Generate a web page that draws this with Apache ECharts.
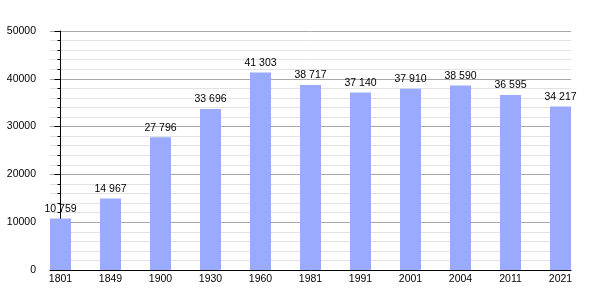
<!DOCTYPE html>
<html>
<head>
<meta charset="utf-8">
<script src="https://cdn.jsdelivr.net/npm/echarts@6/dist/echarts.min.js"></script>
<style>html,body{margin:0;padding:0;background:#fff}#c{width:600px;height:300px}</style>
</head>
<body>
<div id="c"></div>
<script>
const years = ['1801','1849','1900','1930','1960','1981','1991','2001','2004','2011','2021'];
const population = [10759, 14967, 27796, 33696, 41303, 38717, 37140, 37910, 38590, 36595, 34217];
const yTicks = [0, 10000, 20000, 30000, 40000, 50000];

const chart = echarts.init(document.getElementById('c'), null, {renderer: 'canvas'});
const fmt = v => String(v).replace(/\B(?=(\d{3})+(?!\d))/g, ' ');
chart.setOption({
  animation: false,
  backgroundColor: '#ffffff',
  textStyle: {fontFamily: 'Liberation Sans, Arial, sans-serif'},
  grid: {left: 50, top: 31, width: 521, height: 239, containLabel: false},
  xAxis: {
    type: 'value',
    min: -0.21,
    max: years.length - 1 + 0.21,
    axisLine: {show: true, onZero: false, lineStyle: {color: '#000', width: 1}},
    axisTick: {show: false},
    splitLine: {show: false},
    axisLabel: {
      customValues: years.map((_, i) => i),
      formatter: v => years[Math.round(v)],
      color: '#000', fontSize: 10.5, margin: 4
    }
  },
  yAxis: {
    type: 'value',
    min: yTicks[0], max: yTicks[yTicks.length - 1], interval: 10000,
    axisLine: {show: true, lineStyle: {color: '#000', width: 1}},
    axisTick: {show: true, length: 6, lineStyle: {color: '#000'}},
    minorTick: {show: true, splitNumber: 5, length: 3, lineStyle: {color: '#000'}},
    splitLine: {show: true, lineStyle: {color: '#a8a8a8', width: 1}},
    minorSplitLine: {show: true, lineStyle: {color: '#e2e2e2', width: 1}},
    axisLabel: {color: '#000', fontSize: 10.5, margin: 14, formatter: v => String(v)}
  },
  series: [{
    type: 'bar',
    barWidth: 21,
    data: population.map((v, i) => [i, v]),
    itemStyle: {color: '#99aaff'},
    label: {
      show: true, position: 'top', distance: 4, color: '#000', fontSize: 10.5,
      formatter: p => fmt(p.value[1])
    }
  }]
});
</script>
</body>
</html>
